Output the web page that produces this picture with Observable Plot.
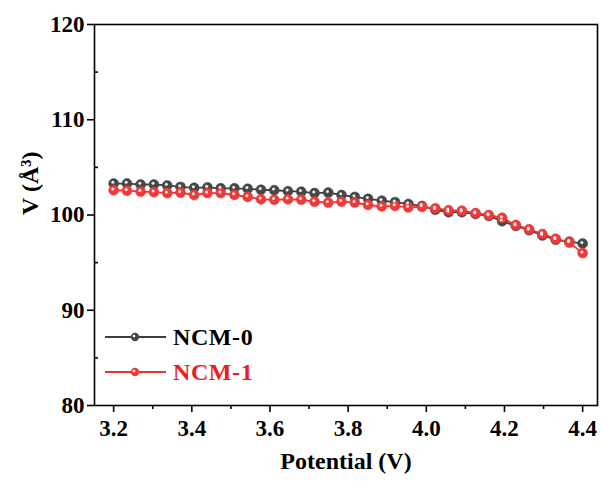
<!DOCTYPE html>
<html>
<head>
<meta charset="utf-8">
<script src="https://cdn.jsdelivr.net/npm/d3@7"></script>
<script src="https://cdn.jsdelivr.net/npm/@observablehq/plot@0.6"></script>
<style>
  html, body { margin: 0; padding: 0; background: #fff; }
  #wrap { position: relative; width: 603px; height: 484px; }
  #legend { position: absolute; left: 0; top: 0; pointer-events: none; }
</style>
</head>
<body>
<div id="wrap"></div>
<script>
// Potential (V) at each refinement point
const potential = [
  3.200, 3.234, 3.269, 3.303, 3.337, 3.371, 3.406, 3.440, 3.474, 3.509,
  3.543, 3.577, 3.611, 3.646, 3.680, 3.714, 3.749, 3.783, 3.817, 3.851,
  3.886, 3.920, 3.954, 3.989, 4.023, 4.057, 4.091, 4.126, 4.160, 4.194,
  4.229, 4.263, 4.297, 4.331, 4.366, 4.400
];
// Unit-cell volume V (Å³)
const ncm0 = [
  103.3, 103.3, 103.2, 103.2, 103.1, 102.95, 102.85, 102.9, 102.8, 102.8,
  102.75, 102.65, 102.6, 102.5, 102.45, 102.3, 102.35, 102.1, 101.9, 101.7,
  101.5, 101.35, 101.15, 100.95, 100.55, 100.3, 100.3, 100.1, 99.9, 99.35,
  98.85, 98.4, 97.85, 97.4, 97.2, 97.0
];
const ncm1 = [
  102.6, 102.55, 102.45, 102.4, 102.3, 102.35, 102.1, 102.3, 102.3, 102.1,
  101.9, 101.65, 101.6, 101.65, 101.6, 101.4, 101.3, 101.4, 101.3, 101.05,
  100.9, 100.95, 100.8, 100.85, 100.7, 100.5, 100.45, 100.2, 100.0, 99.7,
  98.95, 98.5, 98.0, 97.5, 97.1, 96.0
];
const seriesNames = ["NCM-0", "NCM-1"];
const lineColors = ["#3f3f3f", "#f23030"];
const dotColors = ["#474747", "#f03a3a"];

const xTicks = [3.2, 3.4, 3.6, 3.8, 4.0, 4.2, 4.4];
const xMinor = [3.3, 3.5, 3.7, 3.9, 4.1, 4.3];
const yTicks = [80, 90, 100, 110, 120];
const yMinor = [85, 95, 105, 115];

const rows = [];
[ncm0, ncm1].forEach((vals, s) => {
  vals.forEach((v, i) => rows.push({series: seriesNames[s], x: potential[i], y: v}));
});

const font = "'Liberation Serif', 'Times New Roman', serif";

const chart = Plot.plot({
  width: 603,
  height: 484,
  marginLeft: 94,
  marginRight: 6,
  marginTop: 24,
  marginBottom: 79,
  style: {fontFamily: font, fontWeight: "bold", fontSize: "22px", color: "#000", background: "#fff"},
  x: {domain: [3.151, 4.438]},
  y: {domain: [80, 120]},
  color: {domain: seriesNames, range: lineColors},
  marks: [
    Plot.frame({stroke: "#000", strokeWidth: 1.6}),
    Plot.axisX({ticks: xTicks, tickSize: 7, tickPadding: 7, tickFormat: d3.format(".1f"),
      fontSize: 23, fontWeight: "bold", strokeWidth: 1.6, label: null}),
    Plot.axisX({ticks: xMinor, tickSize: 4, tickFormat: () => "", strokeWidth: 1.6, label: null}),
    Plot.axisY({ticks: yTicks, tickSize: 7, tickPadding: 3,
      fontSize: 23, fontWeight: "bold", strokeWidth: 1.6, label: null}),
    Plot.axisY({ticks: yMinor, tickSize: -4, tickFormat: () => "", strokeWidth: 1.6, label: null}),
    Plot.text(["Potential (V)"], {frameAnchor: "bottom", dy: 63, fontSize: 24, fontWeight: "bold", fill: "#000"}),
    Plot.text(["V (Å³)"], {frameAnchor: "left", dx: -64, rotate: -90, fontSize: 24, fontWeight: "bold", fill: "#000"}),
    Plot.line(rows, {x: "x", y: "y", z: "series", stroke: "series", strokeWidth: 1.8}),
    Plot.dot(rows, {x: "x", y: "y", r: 5,
      fill: d => dotColors[seriesNames.indexOf(d.series)],
      stroke: d => dotColors[seriesNames.indexOf(d.series)], strokeWidth: 0.5}),
    Plot.dot(rows, {x: "x", y: "y", r: 1.5, dx: -0.8, dy: -1.2, fill: "#fff", fillOpacity: 0.9})
  ]
});
document.getElementById("wrap").appendChild(chart);

// Legend: line-and-marker swatches with bold series names
const legend = d3.select("#wrap").append("svg")
  .attr("id", "legend").attr("width", 603).attr("height", 484);
const legendRows = [
  {name: seriesNames[0], color: lineColors[0], dot: dotColors[0], text: "#000", y: 337},
  {name: seriesNames[1], color: lineColors[1], dot: dotColors[1], text: "#ee1c1c", y: 372}
];
legendRows.forEach(r => {
  const g = legend.append("g");
  g.append("line").attr("x1", 105).attr("x2", 166).attr("y1", r.y).attr("y2", r.y)
    .attr("stroke", r.color).attr("stroke-width", 1.8);
  g.append("circle").attr("cx", 135).attr("cy", r.y).attr("r", 4.2).attr("fill", r.dot);
  g.append("circle").attr("cx", 134).attr("cy", r.y - 1).attr("r", 1.3).attr("fill", "#fff");
  g.append("text").attr("x", 173).attr("y", r.y + 8)
    .attr("font-family", font).attr("font-weight", "bold").attr("font-size", 24)
    .attr("letter-spacing", 0.6)
    .attr("fill", r.text).text(r.name);
});
</script>
</body>
</html>
